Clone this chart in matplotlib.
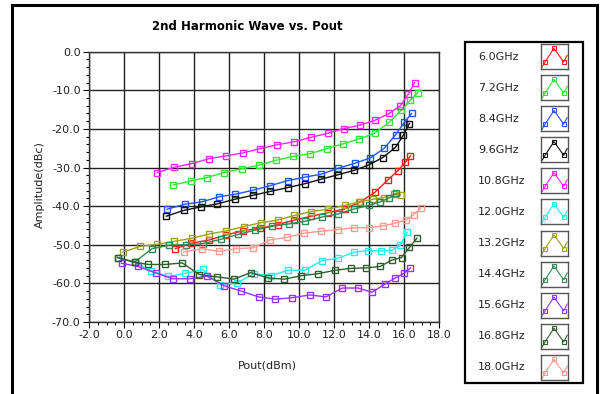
import matplotlib
matplotlib.use("Agg")
import matplotlib.pyplot as plt
from matplotlib.lines import Line2D
from matplotlib.patches import Rectangle
from matplotlib.ticker import MultipleLocator, FormatStrFormatter

plt.rcParams['font.family'] = ['DejaVu Sans']

labels = ["6.0GHz", "7.2GHz", "8.4GHz", "9.6GHz", "10.8GHz", "12.0GHz",
          "13.2GHz", "14.4GHz", "15.6GHz", "16.8GHz", "18.0GHz"]
colors = ["#FF1A1A", "#33E633", "#2255FF", "#111111", "#FF22FF", "#22F0F0",
          "#A0A020", "#2E8B57", "#9933FF", "#2F5F2F", "#FF9A90"]

x_60 = [2.94, 3.85, 4.84, 5.81, 6.8, 7.77, 8.78, 9.74, 10.71, 11.64, 12.61, 13.47, 14.34, 15.08, 15.65, 16.08, 16.37]
y_60 = [-51.0, -49.6, -48.8, -47.5, -46.4, -45.7, -44.8, -43.6, -42.6, -41.7, -40.7, -39.0, -36.4, -33.2, -30.8, -28.6, -27.0]

x_72 = [2.82, 3.81, 4.73, 5.71, 6.73, 7.71, 8.7, 9.68, 10.65, 11.58, 12.5, 13.43, 14.32, 15.15, 15.84, 16.37, 16.78]
y_72 = [-34.5, -33.5, -32.6, -31.3, -30.3, -29.4, -28.1, -27.1, -26.4, -25.1, -23.9, -22.6, -21.1, -18.3, -15.2, -12.5, -10.6]

x_84 = [2.46, 3.47, 4.44, 5.41, 6.37, 7.35, 8.35, 9.35, 10.33, 11.28, 12.23, 13.19, 14.08, 14.88, 15.52, 16.02, 16.43]
y_84 = [-40.8, -39.5, -38.9, -37.6, -36.9, -35.9, -34.7, -33.4, -32.5, -31.7, -30.2, -28.9, -27.5, -25.0, -21.5, -18.3, -16.0]

x_96 = [2.42, 3.41, 4.38, 5.34, 6.34, 7.35, 8.35, 9.35, 10.33, 11.28, 12.2, 13.17, 14.0, 14.79, 15.51, 15.97, 16.31]
y_96 = [-42.6, -41.1, -40.2, -39.4, -38.2, -37.2, -36.2, -35.2, -34.2, -33.0, -31.9, -30.7, -29.3, -27.4, -24.8, -21.6, -18.6]

x_108 = [1.91, 2.88, 3.87, 4.86, 5.81, 6.8, 7.79, 8.75, 9.74, 10.67, 11.66, 12.57, 13.5, 14.32, 15.15, 15.79, 16.25, 16.6]
y_108 = [-31.3, -29.9, -29.0, -27.7, -27.0, -26.2, -25.1, -24.1, -23.3, -22.2, -21.1, -19.9, -19.0, -17.8, -16.0, -14.0, -11.0, -8.0]

x_120 = [0.6, 1.54, 2.53, 3.5, 4.5, 5.51, 6.48, 7.41, 8.4, 9.37, 10.34, 11.31, 12.22, 13.17, 13.93, 14.69, 15.32, 15.79, 16.18]
y_120 = [-54.5, -56.7, -58.2, -57.4, -56.4, -60.3, -59.8, -57.5, -58.0, -56.6, -56.6, -54.1, -53.5, -51.9, -51.5, -51.6, -51.4, -50.1, -46.7]

x_132 = [-0.07, 0.94, 1.9, 2.88, 3.89, 4.88, 5.85, 6.83, 7.81, 8.78, 9.74, 10.71, 11.64, 12.61, 13.45, 14.24, 14.84, 15.41, 15.82]
y_132 = [-51.9, -50.4, -49.9, -49.1, -48.3, -47.2, -46.4, -45.3, -44.3, -43.6, -42.4, -41.4, -40.8, -39.8, -38.9, -38.2, -37.8, -36.9, -37.1]

x_144 = [-0.37, 0.6, 1.61, 2.58, 3.55, 4.51, 5.53, 6.54, 7.51, 8.48, 9.42, 10.37, 11.33, 12.24, 13.17, 14.0, 14.63, 15.14, 15.55]
y_144 = [-53.3, -54.5, -51.0, -50.1, -50.0, -49.7, -48.6, -47.3, -46.2, -45.2, -44.6, -43.9, -42.8, -42.0, -40.7, -39.8, -38.9, -37.9, -36.7]

x_156 = [-0.14, 0.79, 1.8, 2.78, 3.79, 4.74, 5.71, 6.7, 7.69, 8.65, 9.62, 10.61, 11.54, 12.48, 13.37, 14.17, 14.94, 15.5, 16.0, 16.37]
y_156 = [-54.8, -55.6, -57.3, -58.8, -58.8, -58.1, -60.6, -62.0, -63.5, -64.1, -63.7, -63.0, -63.5, -61.2, -61.2, -62.3, -60.1, -58.6, -57.4, -56.0]

x_168 = [-0.37, 0.6, 1.39, 2.37, 3.33, 4.3, 5.29, 6.29, 7.24, 8.23, 9.17, 10.14, 11.09, 12.06, 12.99, 13.83, 14.65, 15.29, 15.86, 16.31, 16.74]
y_168 = [-53.3, -54.5, -55.1, -55.1, -54.7, -57.7, -58.3, -58.9, -57.2, -58.6, -58.9, -58.0, -57.5, -56.6, -56.1, -56.0, -55.6, -54.0, -53.3, -50.7, -48.3]

x_180 = [3.41, 4.44, 5.43, 6.42, 7.37, 8.36, 9.32, 10.29, 11.24, 12.21, 13.17, 13.98, 14.82, 15.51, 16.14, 16.57, 16.95]
y_180 = [-51.9, -51.0, -51.7, -51.0, -50.8, -48.7, -48.1, -47.0, -46.5, -46.1, -45.6, -45.6, -45.1, -44.4, -43.5, -42.2, -40.6]

series_x = [x_60, x_72, x_84, x_96, x_108, x_120, x_132, x_144, x_156, x_168, x_180]
series_y = [y_60, y_72, y_84, y_96, y_108, y_120, y_132, y_144, y_156, y_168, y_180]

W, H = 602, 394
fig = plt.figure(figsize=(W / 100, H / 100), dpi=100)

def fx(px):
    return px / W

def fy(py):
    return 1 - py / H

ax = fig.add_axes([fx(89), fy(322), (439 - 89) / W, (322 - 51.7) / H])
ax.set_xlim(-2, 18)
ax.set_ylim(-70, 0)
ax.xaxis.set_major_locator(MultipleLocator(2))
ax.xaxis.set_minor_locator(MultipleLocator(0.5))
ax.yaxis.set_major_locator(MultipleLocator(10))
ax.yaxis.set_minor_locator(MultipleLocator(2))
ax.xaxis.set_major_formatter(FormatStrFormatter('%.1f'))
ax.yaxis.set_major_formatter(FormatStrFormatter('%.1f'))
ax.grid(True, which='major', color='#222222', linewidth=1.0)
ax.tick_params(which='major', direction='out', length=4, width=0.8, labelsize=8, pad=2,
               labelcolor='#222222')
ax.tick_params(which='minor', direction='out', length=2, width=0.8)
for s in ax.spines.values():
    s.set_color('#333333')
    s.set_linewidth(1.0)

for xs, ys, c in zip(series_x, series_y, colors):
    ax.plot(xs, ys, color=c, linewidth=1.0, marker='s', markersize=4.7,
            markerfacecolor='none', markeredgecolor=c, markeredgewidth=1.0)

fig.text(fx(247), fy(27), "2nd Harmonic Wave vs. Pout", ha='center', va='center',
         fontsize=8.5, fontweight='bold')
fig.text(fx(40), fy(185), "Amplitude(dBc)", rotation=90, ha='center', va='center', fontsize=8,
         color='#222222')
fig.text(fx(267), fy(365), "Pout(dBm)", ha='center', va='center', fontsize=8, color='#222222')

# outer frame
fig.add_artist(Line2D([fx(12), fx(12)], [fy(5), 0], color='black', linewidth=2.2))
fig.add_artist(Line2D([fx(12), fx(597)], [fy(5), fy(5)], color='black', linewidth=2.2))
fig.add_artist(Line2D([fx(597), fx(597)], [fy(5), 0], color='black', linewidth=2.2))

# legend box
fig.add_artist(Rectangle((fx(465), fy(383)), (583 - 465) / W, (383 - 42) / H,
                         transform=fig.transFigure, fill=False, edgecolor='black', linewidth=1.6))

y0, dy = 56.5, 31.1
for i, (lab, c) in enumerate(zip(labels, colors)):
    yc = y0 + i * dy
    fig.text(fx(478), fy(yc), lab, ha='left', va='center', fontsize=8, color='#222222')
    iax = fig.add_axes([fx(541), fy(yc + 12.5), 27 / W, 25 / H])
    iax.set_xlim(0, 1)
    iax.set_ylim(0, 1)
    iax.set_xticks([])
    iax.set_yticks([])
    for s in iax.spines.values():
        s.set_color('#555555')
        s.set_linewidth(1.0)
    iax.plot([0.04, 0.15, 0.48, 0.84, 0.97], [0.08, 0.28, 0.83, 0.28, 0.55], color=c, linewidth=0.8)
    iax.plot([0.15, 0.48, 0.84], [0.28, 0.83, 0.28], linestyle='none', marker='s', markersize=2.8,
             markerfacecolor='none', markeredgecolor=c, markeredgewidth=0.8)

fig.savefig("out.png", dpi=100)
